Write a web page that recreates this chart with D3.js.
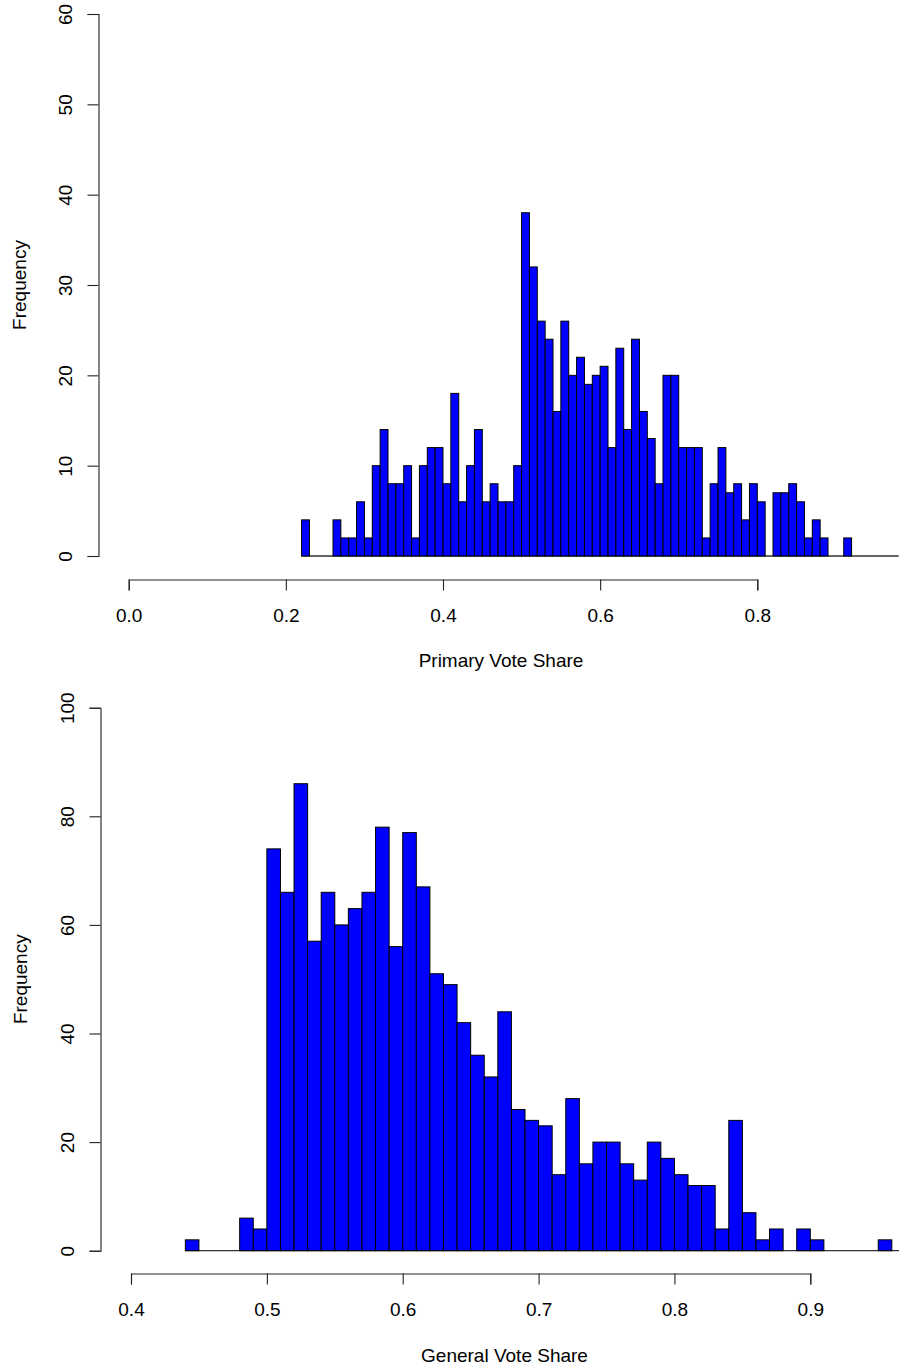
<!DOCTYPE html>
<html><head><meta charset="utf-8">
<script src="https://cdn.jsdelivr.net/npm/d3@7"></script>
<style>
body{margin:0;background:#fff}
svg text{font-family:"Liberation Sans",Arial,sans-serif;fill:#000;font-size:19px}
</style>
</head><body>
<svg id="chart" width="899" height="1368"></svg>
<script>
// ---- data (bin left edges, bin width 0.01) ----
const primaryBinStarts = [0.22,0.23,0.24,0.25,0.26,0.27,0.28,0.29,0.30,0.31,0.32,0.33,0.34,0.35,0.36,0.37,0.38,0.39,
  0.40,0.41,0.42,0.43,0.44,0.45,0.46,0.47,0.48,0.49,0.50,0.51,0.52,0.53,0.54,0.55,0.56,0.57,0.58,0.59,
  0.60,0.61,0.62,0.63,0.64,0.65,0.66,0.67,0.68,0.69,0.70,0.71,0.72,0.73,0.74,0.75,0.76,0.77,0.78,0.79,
  0.80,0.81,0.82,0.83,0.84,0.85,0.86,0.87,0.88,0.89,0.90,0.91,0.92,0.93,0.94,0.95,0.96,0.97];
const primaryCounts = [4,0,0,0,4,2,2,6,2,10,14,8,8,10,2,10,12,12,
  8,18,6,10,14,6,8,6,6,10,38,32,26,24,16,26,20,22,19,20,
  21,12,23,14,24,16,13,8,20,20,12,12,12,2,8,12,7,8,4,8,
  6,0,7,7,8,6,2,4,2,0,0,2,0,0,0,0,0,0];
const generalBinStarts = [0.44,0.45,0.46,0.47,0.48,0.49,0.50,0.51,0.52,0.53,0.54,0.55,0.56,0.57,0.58,0.59,
  0.60,0.61,0.62,0.63,0.64,0.65,0.66,0.67,0.68,0.69,0.70,0.71,0.72,0.73,0.74,0.75,0.76,0.77,0.78,0.79,
  0.80,0.81,0.82,0.83,0.84,0.85,0.86,0.87,0.88,0.89,0.90,0.91,0.92,0.93,0.94,0.95,0.96];
const generalCounts = [2,0,0,0,6,4,74,66,86,57,66,60,63,66,78,56,
  77,67,51,49,42,36,32,44,26,24,23,14,28,16,20,20,16,13,20,17,
  14,12,12,4,24,7,2,4,0,4,2,0,0,0,0,2,0];
const binWidth = 0.01;
const primaryXTicks = [0.0,0.2,0.4,0.6,0.8];
const primaryYTicks = [0,10,20,30,40,50,60];
const generalXTicks = [0.4,0.5,0.6,0.7,0.8,0.9];
const generalYTicks = [0,20,40,60,80,100];

const svg = d3.select("#chart");
svg.append("rect").attr("width",899).attr("height",1368).attr("fill","#fff");

function panel(cfg){
  const g = svg.append("g");
  const x = d3.scaleLinear().domain([cfg.xTicks[0], cfg.xTicks[cfg.xTicks.length-1]]).range(cfg.xRange);
  const y = d3.scaleLinear().domain([cfg.yTicks[0], cfg.yTicks[cfg.yTicks.length-1]]).range(cfg.yRange);
  const bins = cfg.starts.map((s,i)=>({s, c: cfg.counts[i]}));
  // baseline (zero-height bins)
  g.append("line")
    .attr("x1", x(cfg.starts[0])).attr("x2", x(cfg.starts[cfg.starts.length-1] + binWidth))
    .attr("y1", y(0)).attr("y2", y(0))
    .attr("stroke","#333").attr("stroke-width",1.3);
  g.selectAll("rect.bar").data(bins.filter(d=>d.c>0)).join("rect")
    .attr("class","bar")
    .attr("x", d=>x(d.s))
    .attr("width", d=>x(d.s+binWidth)-x(d.s))
    .attr("y", d=>y(d.c))
    .attr("height", d=>y(0)-y(d.c))
    .attr("fill","#0000FF").attr("stroke","#000").attr("stroke-width",1);
  // x axis
  const xa = g.append("g").attr("transform",`translate(0,${cfg.xAxisY})`)
    .call(d3.axisBottom(x).tickValues(cfg.xTicks).tickSize(11).tickFormat(d3.format(".1f")));
  xa.selectAll("path,line").attr("stroke","#222").attr("stroke-width",1.1);
  xa.selectAll("text").attr("y",42).attr("dy",null).attr("fill","#000")
    .style("font-size","19px").style("font-family",'"Liberation Sans",Arial,sans-serif');
  // y axis
  const ya = g.append("g").attr("transform",`translate(${cfg.yAxisX},0)`)
    .call(d3.axisLeft(y).tickValues(cfg.yTicks).tickSize(11));
  ya.selectAll("path,line").attr("stroke","#222").attr("stroke-width",1.1);
  ya.selectAll("text").attr("x",0).attr("y",0).attr("dy",null)
    .attr("text-anchor","middle").attr("transform","translate(-26.5,0) rotate(-90)").attr("fill","#000")
    .style("font-size","19px").style("font-family",'"Liberation Sans",Arial,sans-serif');
  xa.attr("font-size",null).attr("font-family",null);
  ya.attr("font-size",null).attr("font-family",null);
  // titles
  g.append("text").attr("x",cfg.xTitleX).attr("y",cfg.xTitleY).attr("text-anchor","middle").text(cfg.xTitle);
  g.append("text").attr("text-anchor","middle")
    .attr("transform",`translate(${cfg.yTitleX},${(cfg.yRange[0]+cfg.yRange[1])/2}) rotate(-90)`)
    .text("Frequency");
}

panel({starts:primaryBinStarts, counts:primaryCounts, xTicks:primaryXTicks, yTicks:primaryYTicks,
  xRange:[128.7,757.3], yRange:[556,14], xAxisY:579.5, yAxisX:98.5,
  xTitle:"Primary Vote Share", xTitleX:501, xTitleY:667, yTitleX:26});
panel({starts:generalBinStarts, counts:generalCounts, xTicks:generalXTicks, yTicks:generalYTicks,
  xRange:[131,810.3], yRange:[1250.7,707.7], xAxisY:1273.5, yAxisX:100.5,
  xTitle:"General Vote Share", xTitleX:504.5, xTitleY:1362, yTitleX:27});
</script>
</body></html>
